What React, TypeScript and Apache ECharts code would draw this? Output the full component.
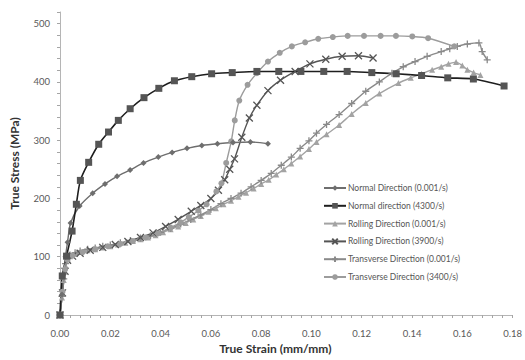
import React, { useEffect, useRef } from "react";
import * as echarts from "echarts";

const seriesNames = [
  "Normal Direction (0.001/s)",
  "Normal direction (4300/s)",
  "Rolling Direction (0.001/s)",
  "Rolling Direction (3900/s)",
  "Transverse Direction (0.001/s)",
  "Transverse Direction (3400/s)",
];

const normalQuasi: number[][] = [
  [0, 0], [0.0008, 35], [0.0015, 70], [0.0022, 100], [0.003, 125], [0.0042, 158],
  [0.0078, 187], [0.013, 209], [0.0179, 225], [0.0227, 238], [0.0279, 249],
  [0.0332, 261], [0.0391, 271], [0.0446, 279], [0.0505, 286], [0.0564, 291],
  [0.0626, 294], [0.0688, 296], [0.0757, 297], [0.0827, 294],
];

const normalDyn: number[][] = [
  [0, 0], [0.0009, 67], [0.0026, 101], [0.0048, 144], [0.0065, 190], [0.0081, 231],
  [0.0114, 262], [0.0154, 293], [0.0193, 314], [0.0232, 334], [0.0279, 354],
  [0.0334, 373], [0.0393, 389], [0.0455, 402], [0.0524, 409], [0.0603, 414],
  [0.0685, 416], [0.0783, 418], [0.087, 418], [0.0958, 418], [0.1049, 418],
  [0.1142, 418], [0.124, 416], [0.1337, 414], [0.1438, 411], [0.1542, 407],
  [0.1644, 405], [0.1766, 393],
];

const rollingQuasi: number[][] = [
  [0, 0], [0.0008, 30], [0.0015, 60], [0.0022, 85], [0.003, 96], [0.004, 101],
  [0.006, 105], [0.008, 108], [0.011, 111], [0.014, 113], [0.017, 116], [0.02, 118],
  [0.023, 121], [0.026, 124], [0.029, 127], [0.032, 130], [0.035, 133], [0.038, 137],
  [0.041, 142], [0.044, 147], [0.047, 152], [0.05, 158], [0.053, 164], [0.056, 170],
  [0.059, 177], [0.062, 183], [0.065, 190], [0.068, 196], [0.071, 203], [0.074, 210],
  [0.077, 217], [0.08, 225], [0.083, 232], [0.086, 241], [0.089, 250], [0.092, 260],
  [0.0955, 272], [0.099, 285], [0.102, 297], [0.106, 310], [0.111, 326], [0.116, 345],
  [0.1216, 364], [0.127, 380], [0.1346, 398], [0.1395, 407], [0.1438, 414],
  [0.148, 421], [0.1516, 426], [0.1545, 431], [0.1575, 434], [0.16, 428],
  [0.162, 421], [0.1645, 416], [0.1672, 412],
];

const rollingDyn: number[][] = [
  [0, 0], [0.001, 38], [0.002, 75], [0.003, 94], [0.005, 101], [0.008, 106],
  [0.012, 111], [0.017, 116], [0.022, 121], [0.027, 126], [0.032, 133], [0.037, 141],
  [0.042, 152], [0.047, 164], [0.0522, 178], [0.056, 188], [0.06, 200], [0.063, 214],
  [0.0655, 232], [0.0675, 250], [0.0694, 268], [0.0723, 305], [0.0753, 338],
  [0.0783, 360], [0.0827, 385], [0.0877, 403], [0.0935, 418], [0.0994, 431],
  [0.1057, 439], [0.1122, 444], [0.1187, 445], [0.1245, 441],
];

const transQuasi: number[][] = [
  [0, 0], [0.0008, 32], [0.0015, 62], [0.0022, 88], [0.003, 98], [0.004, 103],
  [0.006, 107], [0.008, 110], [0.011, 113], [0.014, 115], [0.017, 118], [0.02, 120],
  [0.024, 124], [0.028, 128], [0.032, 132], [0.036, 136], [0.04, 142], [0.044, 149],
  [0.048, 156], [0.052, 164], [0.056, 172], [0.06, 181], [0.064, 191], [0.068, 200],
  [0.072, 209], [0.076, 220], [0.08, 231], [0.084, 243], [0.088, 257], [0.092, 271],
  [0.0955, 286], [0.099, 299], [0.102, 312], [0.106, 327], [0.111, 344], [0.116, 363],
  [0.1216, 384], [0.127, 400], [0.132, 415], [0.1365, 426], [0.1412, 435],
  [0.146, 444], [0.1516, 452], [0.155, 457], [0.158, 461], [0.162, 465],
  [0.1666, 467], [0.1679, 452], [0.1699, 438],
];

const transDyn: number[][] = [
  [0, 0], [0.001, 40], [0.002, 78], [0.003, 95], [0.005, 102], [0.009, 108],
  [0.014, 113], [0.019, 118], [0.024, 122], [0.029, 127], [0.034, 133], [0.039, 140],
  [0.044, 150], [0.048, 159], [0.0512, 168], [0.055, 179], [0.0583, 190],
  [0.0622, 212], [0.0642, 226], [0.0661, 261], [0.0681, 298], [0.0695, 334],
  [0.0713, 368], [0.0746, 395], [0.0783, 415], [0.0827, 435], [0.0874, 450],
  [0.0922, 461], [0.0975, 468], [0.1027, 474], [0.1085, 477], [0.1144, 479],
  [0.1209, 479], [0.1275, 479], [0.1336, 479], [0.1401, 478], [0.1464, 475],
  [0.1568, 461],
];

const xTicks = [0, 0.02, 0.04, 0.06, 0.08, 0.1, 0.12, 0.14, 0.16, 0.18];
const yTicks = [0, 100, 200, 300, 400, 500];

const FONT = "Lato, 'Open Sans', sans-serif";

export default function App() {
  const ref = useRef<HTMLDivElement>(null);
  useEffect(() => {
    if (!ref.current) return;
    const chart = echarts.init(ref.current, undefined, { renderer: "svg" });
    const crossX = "path://M0,0L10,10M10,0L0,10";
    const plus = "path://M5,0L5,10M0,5L10,5";
    const mk = (
      name: string,
      data: number[][],
      lineColor: string,
      markColor: string,
      symbol: string,
      size: number,
      stroke: boolean,
      width = 1.4
    ) => ({
      name,
      type: "line",
      data,
      smooth: 0.25,
      symbol,
      symbolSize: size,
      showAllSymbol: true,
      lineStyle: { color: lineColor, width },
      itemStyle: {
        color: markColor,
        borderColor: markColor,
        borderWidth: stroke ? 1.3 : 0,
      },
      emphasis: { disabled: true },
    });
    chart.setOption({
      animation: false,
      backgroundColor: "#ffffff",
      textStyle: { fontFamily: FONT },
      grid: { left: 56, right: 9, top: 12, bottom: 45, containLabel: false },
      legend: {
        orient: "vertical",
        left: 318,
        top: 178,
        itemWidth: 22,
        itemHeight: 7,
        itemGap: 7.8,
        data: seriesNames,
        textStyle: { fontSize: 8.5, color: "#555", fontFamily: FONT, lineHeight: 10, padding: [0, 0, 0, -3] },
      },
      xAxis: {
        type: "value",
        min: xTicks[0],
        max: xTicks[xTicks.length - 1],
        interval: 0.02,
        name: "True Strain (mm/mm)",
        nameLocation: "middle",
        nameGap: 26,
        nameTextStyle: { fontSize: 12, fontWeight: "bold", color: "#333", padding: [0, 22, 0, 0], fontFamily: FONT },
        axisLine: { lineStyle: { color: "#b5b5b5", width: 1 } },
        axisTick: { show: true, length: 3, lineStyle: { color: "#a5a5a5" } },
        minorTick: { show: true, splitNumber: 5, length: 3, lineStyle: { color: "#a5a5a5" } },
        splitLine: { show: false },
        axisLabel: {
          fontSize: 9.5,
          color: "#595959",
          margin: 13,
          formatter: (v: number) => v.toFixed(2),
        },
      },
      yAxis: {
        type: "value",
        min: 0,
        max: 520,
        interval: 20,
        name: "True Stress (MPa)",
        nameLocation: "middle",
        nameGap: 40,
        nameTextStyle: { fontSize: 12, fontWeight: "bold", color: "#333", fontFamily: FONT },
        axisLine: { show: true, lineStyle: { color: "#b5b5b5", width: 1 } },
        axisTick: { show: true, length: 3, lineStyle: { color: "#a5a5a5" } },
        splitLine: { show: false },
        axisLabel: {
          fontSize: 9.5,
          color: "#595959",
          margin: 10,
          formatter: (v: number) => (yTicks.indexOf(Math.round(v)) >= 0 && Math.abs(v - Math.round(v)) < 1e-6 ? String(Math.round(v)) : ""),
        },
      },
      series: [
        mk(seriesNames[2], rollingQuasi, "#a3a3a3", "#a3a3a3", "triangle", 6, false),
        mk(seriesNames[4], transQuasi, "#8a8a8a", "#8a8a8a", plus, 7, true),
        mk(seriesNames[3], rollingDyn, "#555555", "#555555", crossX, 7, true),
        mk(seriesNames[5], transDyn, "#9c9c9c", "#9c9c9c", "circle", 6, false),
        mk(seriesNames[0], normalQuasi, "#6e6e6e", "#6e6e6e", "diamond", 6, false),
        mk(seriesNames[1], normalDyn, "#1e1e1e", "#555555", "rect", 7, false, 1.6),
      ],
    });
    return () => chart.dispose();
  }, []);
  return (
    <div
      ref={ref}
      style={{ position: "absolute", left: 0, top: 0, width: 525, height: 360 }}
    />
  );
}
